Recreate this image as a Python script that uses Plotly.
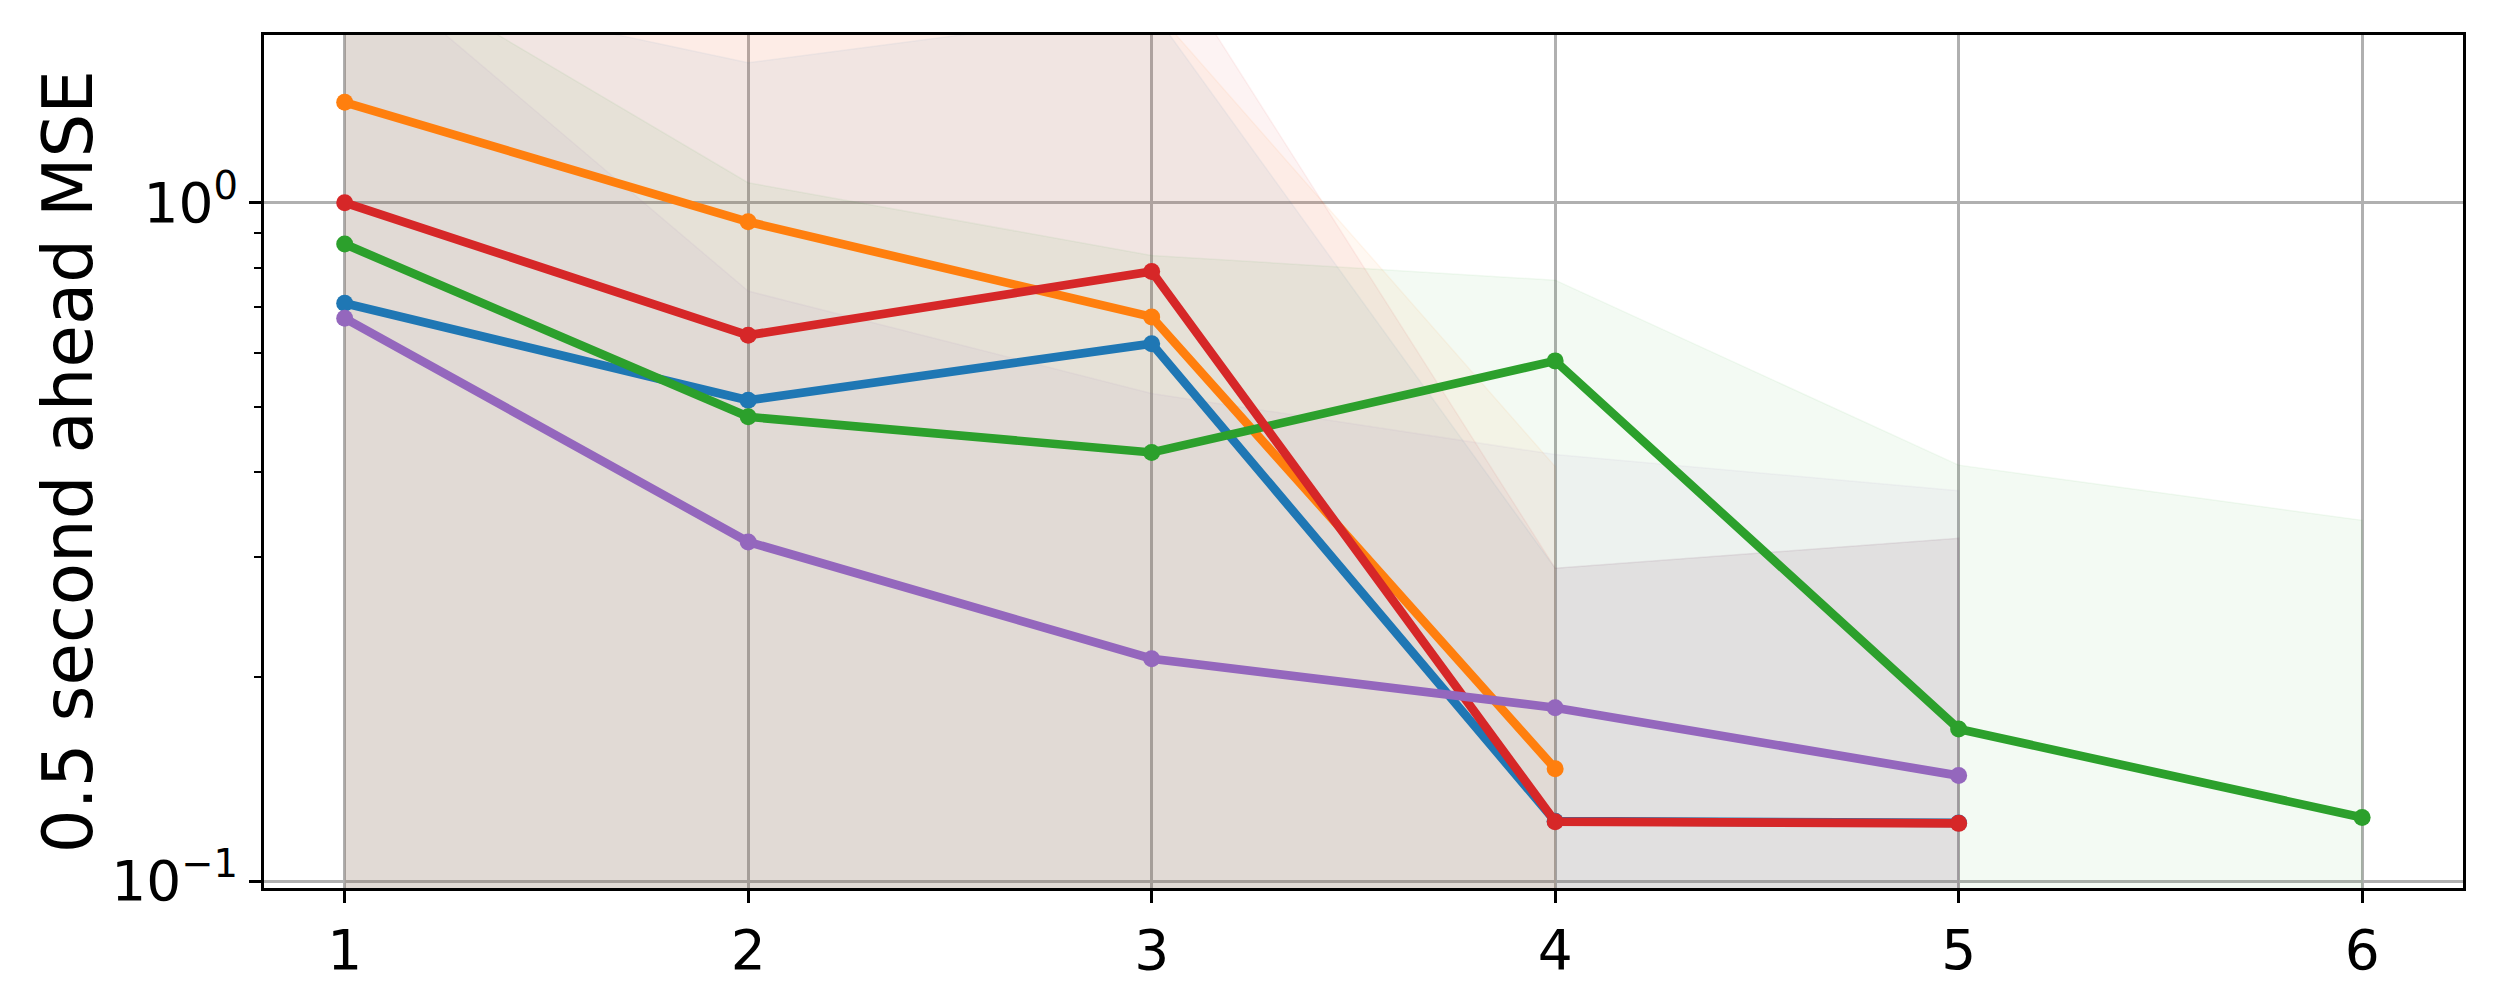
import plotly.graph_objects as go

# ---- data ----
x_blue = [1, 2, 3, 4, 5]
mse_blue = [0.710, 0.511, 0.619, 0.1225, 0.1218]
up_blue = [2.15, 1.606, 1.92, 0.289, 0.320]

x_orange = [1, 2, 3, 4]
mse_orange = [1.404, 0.936, 0.678, 0.1464]
up_orange = [3.6, 2.8, 1.94, 0.408]

x_green = [1, 2, 3, 4, 5, 6]
mse_green = [0.868, 0.483, 0.428, 0.584, 0.1675, 0.124]
up_green = [2.40, 1.069, 0.835, 0.768, 0.410, 0.340]

x_red = [1, 2, 3, 4, 5]
mse_red = [0.999, 0.637, 0.791, 0.1223, 0.1216]
up_red = [3.2, 2.6, 2.49, 0.289, 0.320]

x_purple = [1, 2, 3, 4, 5]
mse_purple = [0.675, 0.316, 0.2126, 0.180, 0.143]
up_purple = [2.36, 0.740, 0.523, 0.425, 0.376]

LOW = 1e-3  # lower band edge, far below the visible range

x_ticks = [1, 2, 3, 4, 5, 6]
y_ticks = [0.1, 1]
y_ticktext = ["10<sup>\u22121</sup>", "10<sup>0</sup>"]
y_minor = [0.2, 0.3, 0.4, 0.5, 0.6, 0.7, 0.8, 0.9]

series = [
    ("blue", "#1f77b4", (31, 119, 180), x_blue, mse_blue, up_blue),
    ("orange", "#ff7f0e", (255, 127, 14), x_orange, mse_orange, up_orange),
    ("green", "#2ca02c", (44, 160, 44), x_green, mse_green, up_green),
    ("red", "#d62728", (214, 39, 40), x_red, mse_red, up_red),
    ("purple", "#9467bd", (148, 103, 189), x_purple, mse_purple, up_purple),
]

ALPHA = 0.055
fig = go.Figure()
for name, col, rgb, xs, ys, up in series:
    fc = "rgba(%d,%d,%d,%.3f)" % (rgb[0], rgb[1], rgb[2], ALPHA)
    fig.add_trace(go.Scatter(
        x=list(xs) + list(xs)[::-1],
        y=list(up) + [LOW] * len(xs),
        mode="lines", fill="toself", fillcolor=fc,
        line=dict(color=fc, width=1.5), hoverinfo="skip", showlegend=False,
    ))
for name, col, rgb, xs, ys, up in series:
    fig.add_trace(go.Scatter(
        x=xs, y=ys, mode="lines+markers", name=name,
        line=dict(color=col, width=8.7),
        marker=dict(color=col, size=17), showlegend=False,
    ))

FONT = "DejaVu Sans"
fig.update_layout(
    width=2492, height=992,
    margin=dict(l=255.5, r=37, t=27, b=112.3),
    paper_bgcolor="white", plot_bgcolor="white",
    font=dict(family=FONT, color="black"),
    xaxis=dict(
        range=[0.8, 6.25], tickmode="array", tickvals=x_ticks,
        showgrid=True, gridcolor="#b0b0b0", gridwidth=2.8, zeroline=False,
        showline=True, linecolor="black", linewidth=3, mirror=True,
        ticks="outside", ticklen=12, tickwidth=2.8, tickcolor="black",
        tickfont=dict(size=55, family=FONT),
    ),
    yaxis=dict(
        type="log", range=[-1.0103, 0.2466],
        tickmode="array", tickvals=y_ticks, ticktext=y_ticktext,
        showgrid=True, gridcolor="#b0b0b0", gridwidth=2.8, zeroline=False,
        showline=True, linecolor="black", linewidth=3, mirror=True,
        ticks="outside", ticklen=12, tickwidth=2.8, tickcolor="black",
        tickfont=dict(size=55, family=FONT),
        minor=dict(tickmode="array", tickvals=y_minor, ticks="outside",
                   ticklen=7, tickwidth=2, tickcolor="black", showgrid=False),
    ),
    annotations=[dict(
        text="0.5 second ahead MSE", xref="paper", yref="paper",
        x=-0.0893, y=0.5, xanchor="center", yanchor="middle",
        textangle=-90, showarrow=False,
        font=dict(size=69, family=FONT, color="black"),
    )],
)

fig.write_html("out.html")
